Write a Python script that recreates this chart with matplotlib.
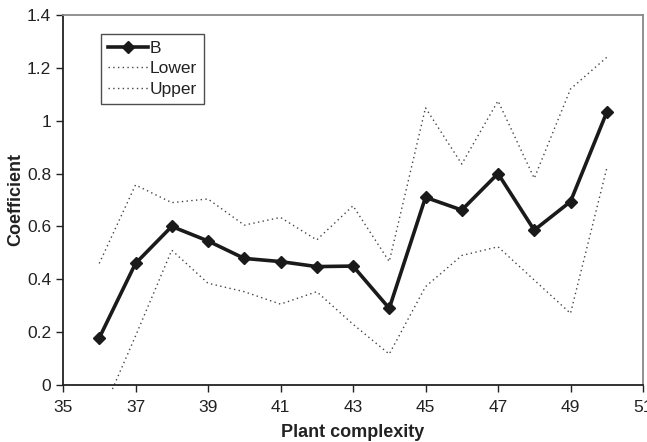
import matplotlib
matplotlib.use("Agg")
import matplotlib.pyplot as plt
from matplotlib.patches import Rectangle

plt.rcParams['font.family'] = ['Liberation Sans', 'DejaVu Sans']

# data
complexity = [36, 37, 38, 39, 40, 41, 42, 43, 44, 45, 46, 47, 48, 49, 50]
b_coef = [0.178, 0.46, 0.60, 0.545, 0.479, 0.467, 0.448, 0.45, 0.29, 0.71, 0.662, 0.80, 0.586, 0.694, 1.032]
lower = [-0.13, 0.185, 0.51, 0.385, 0.353, 0.306, 0.353, 0.23, 0.117, 0.372, 0.49, 0.523, 0.397, 0.271, 0.82]
upper = [0.46, 0.757, 0.69, 0.704, 0.605, 0.634, 0.549, 0.678, 0.467, 1.049, 0.836, 1.075, 0.782, 1.12, 1.24]

xticks = [35, 37, 39, 41, 43, 45, 47, 49, 51]
yticks = [0, 0.2, 0.4, 0.6, 0.8, 1, 1.2, 1.4]
ytick_labels = ['0', '0.2', '0.4', '0.6', '0.8', '1', '1.2', '1.4']

fig = plt.figure(figsize=(6.47, 4.42), dpi=100)
ax = fig.add_axes([63/647, 1 - 385/442, 580/647, 370/442])

# Excel lets the lines run a few pixels past the plot area
clip = Rectangle((0, -0.014), 1, 1.03, transform=ax.transAxes, visible=False)
ax.add_patch(clip)

ax.plot(complexity, b_coef, color='#1a1a1a', lw=2.6, marker='D', ms=6.5,
        mfc='#1a1a1a', mec='#1a1a1a', label='B', zorder=3)
l1, = ax.plot(complexity, lower, color='#444444', lw=1.0, ls=(0, (1, 2.4)), label='Lower')
l2, = ax.plot(complexity, upper, color='#444444', lw=1.0, ls=(0, (1, 2.4)), label='Upper')
l1.set_clip_path(clip)
l2.set_clip_path(clip)

ax.set_xlim(35, 51)
ax.set_ylim(0, 1.4)
ax.set_xticks(xticks)
ax.set_yticks(yticks)
ax.set_yticklabels(ytick_labels)
ax.tick_params(direction='out', length=5, width=1, labelsize=12.5, colors='#222222')
ax.tick_params(axis='x', pad=6)

for side in ['left', 'bottom']:
    ax.spines[side].set_color('#222222')
    ax.spines[side].set_linewidth(1.3)
for side in ['top', 'right']:
    ax.spines[side].set_color('#888888')
    ax.spines[side].set_linewidth(1.3)

ax.set_xlabel('Plant complexity', fontsize=13, fontweight='bold', color='#222222', labelpad=6)
ax.set_ylabel('Coefficient', fontsize=13, fontweight='bold', color='#222222', labelpad=2)

leg = ax.legend(loc='upper left', bbox_to_anchor=(0.066, 0.949), fontsize=12.5,
                frameon=True, fancybox=False, edgecolor='#222222', borderpad=0.4,
                labelspacing=0.3, handlelength=2.3, handletextpad=0.1, borderaxespad=0)
leg.get_frame().set_linewidth(1.0)
for t in leg.get_texts():
    t.set_color('#222222')

fig.savefig('out.png', dpi=100)
